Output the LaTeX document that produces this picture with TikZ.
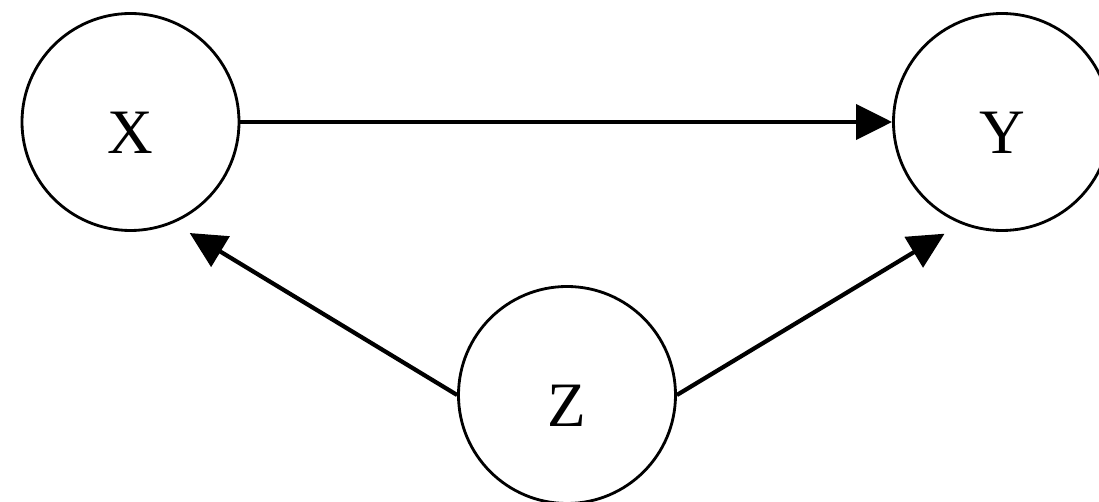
\documentclass[tikz,border=0pt]{standalone}
\usepackage{fontspec}
\setmainfont{Liberation Serif}
\usetikzlibrary{arrows.meta}

\begin{document}
\begin{tikzpicture}[x=.2mm,y=-.2mm,
  varnode/.style={circle,draw=black,line width=1.6pt,inner sep=0pt,
   minimum size=43.4mm,text height=12.8mm,text depth=0pt,
   font=\fontsize{36}{42}\selectfont},
  causal/.style={-{Triangle[length=7.2mm,width=7mm]},line width=2.4pt}]
  \useasboundingbox (0,0) rectangle (1099,502);
  \node[varnode] (X) at (130.5,122) {X};
  \node[varnode] (Y) at (1002,122) {Y};
  \node[varnode] (Z) at (567,395) {Z};
  \draw[causal] (X) -- (Y);
  \draw[causal,shorten >=3.8mm] (Z.west) -- (X.-67.5);
  \draw[causal,shorten >=3.8mm] (Z.east) -- (Y.-112.5);
\end{tikzpicture}
\end{document}
